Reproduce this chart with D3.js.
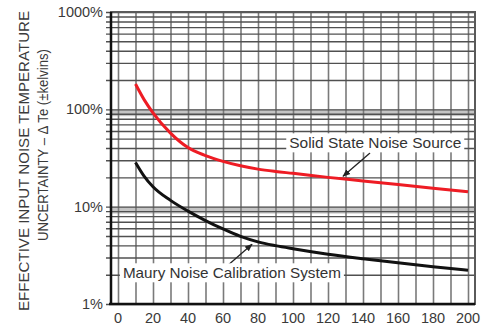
<!DOCTYPE html>
<html>
<head>
<meta charset="utf-8">
<script src="https://cdn.jsdelivr.net/npm/d3@7"></script>
<style>
  body { margin: 0; background: #fff; }
  text { font-family: "Liberation Sans", Arial, sans-serif; }
</style>
</head>
<body>
<svg id="chart" width="490" height="328"></svg>
<script>
// data
var xValues = [10, 15, 20, 30, 40, 50, 60, 70, 80, 90, 100, 120, 140, 160, 180, 200];
var solidState = [182, 125, 92, 57, 40.5, 33.5, 29.2, 26.3, 24.3, 23, 22, 20, 18.4, 16.9, 15.5, 14.2];
var mauryCal = [28.5, 20.5, 16, 11.6, 9.0, 7.2, 5.9, 4.95, 4.35, 3.98, 3.7, 3.25, 2.92, 2.65, 2.42, 2.22];
var xTicks = [0, 20, 40, 60, 80, 100, 120, 140, 160, 180, 200];
var yTickLabels = ["1%", "10%", "100%", "1000%"];
var yDecades = [1, 10, 100, 1000];

// set up the frame
var margin = { top: 12, right: 15, bottom: 24, left: 111 };
var width = 490 - margin.left - margin.right;
var height = 328 - margin.top - margin.bottom;

var svg = d3.select("#chart")
  .append("g")
  .attr("transform", "translate(" + margin.left + "," + margin.top + ")");

var x = d3.scaleLinear().domain([-4, 204]).range([0, width]);
var y = d3.scaleLog().domain([1, 1000]).range([height, 0]);

// gray bands just under each decade line
[10, 100].forEach(function(v) {
  svg.append("rect")
    .attr("x", 0)
    .attr("y", y(v))
    .attr("width", width)
    .attr("height", y(v * 0.85) - y(v))
    .style("fill", "#c4c4c4");
});

// log grid: 1..9 in each decade
var yGrid = [];
[1, 10, 100].forEach(function(d) {
  for (var i = 1; i < 10; i++) yGrid.push(d * i);
});
yGrid.push(1000);

var xGrid = d3.range(0, 201, 10);

svg.append("g")
  .attr("class", "xgrid")
  .call(d3.axisBottom(x).tickValues(xGrid).tickSize(height).tickFormat(""))
  .call(function(g) { g.select(".domain").remove(); })
  .selectAll("line")
  .style("stroke", "#7a7a7a")
  .style("stroke-width", 1.6);

svg.append("g")
  .attr("class", "ygrid")
  .call(d3.axisLeft(y).tickValues(yGrid).tickSize(-width - 5).tickFormat(""))
  .attr("transform", "translate(-5,0)")
  .call(function(g) { g.select(".domain").remove(); })
  .selectAll("line")
  .style("stroke", "#505050")
  .style("stroke-width", 1.4);

// frame
svg.append("rect")
  .attr("width", width)
  .attr("height", height)
  .style("fill", "none")
  .style("stroke", "#5a5a5a")
  .style("stroke-width", 2);

svg.append("line")
  .attr("x1", 0).attr("x2", 0).attr("y1", 0).attr("y2", height)
  .style("stroke", "#111").style("stroke-width", 2.5);
svg.append("line")
  .attr("x1", -2).attr("x2", width).attr("y1", height).attr("y2", height)
  .style("stroke", "#111").style("stroke-width", 2.5);

// tick labels
svg.selectAll(".ylab")
  .data(yDecades)
  .enter().append("text")
  .attr("class", "ylab")
  .attr("x", -8)
  .attr("y", function(d) { return y(d); })
  .attr("dy", "0.35em")
  .attr("text-anchor", "end")
  .attr("font-size", "14.5px")
  .style("fill", "#3a3a3a")
  .text(function(d, i) { return yTickLabels[i]; });

svg.selectAll(".xlab")
  .data(xTicks)
  .enter().append("text")
  .attr("class", "xlab")
  .attr("x", function(d) { return x(d); })
  .attr("y", height + 19)
  .attr("text-anchor", "middle")
  .attr("font-size", "14.5px")
  .style("fill", "#3a3a3a")
  .text(function(d) { return d; });

// curves
var line = d3.line()
  .curve(d3.curveMonotoneX)
  .x(function(d) { return x(d[0]); })
  .y(function(d) { return y(d[1]); });

svg.append("path")
  .datum(d3.zip(xValues, solidState))
  .attr("d", line)
  .style("fill", "none")
  .style("stroke", "#ee1c24")
  .style("stroke-width", 3);

svg.append("path")
  .datum(d3.zip(xValues, mauryCal))
  .attr("d", line)
  .style("fill", "none")
  .style("stroke", "#111")
  .style("stroke-width", 3);

// annotations
svg.append("defs").append("marker")
  .attr("id", "arrow")
  .attr("viewBox", "0 0 10 10")
  .attr("refX", 9).attr("refY", 5)
  .attr("markerWidth", 6).attr("markerHeight", 6)
  .attr("orient", "auto")
  .append("path")
  .attr("d", "M0,1 L10,5 L0,9 Z")
  .style("fill", "#222");

var notes = [
  { text: "Solid State Noise Source", lx: 147, ly: 45, anchor: "middle", len: 172, tail: [144, 35.6], tip: [128.6, 20.5] },
  { text: "Maury Noise Calibration System", lx: 2.8, ly: 2.08, anchor: "start", len: 218, tail: [63, 2.52], tip: [76.6, 4.1] }
];

notes.forEach(function(n) {
  svg.append("line")
    .attr("x1", x(n.tail[0])).attr("y1", y(n.tail[1]))
    .attr("x2", x(n.tip[0])).attr("y2", y(n.tip[1]))
    .style("stroke", "#222")
    .style("stroke-width", 1.3)
    .attr("marker-end", "url(#arrow)");

  var bg = svg.append("rect").style("fill", "#fff");
  var t = svg.append("text")
    .attr("x", x(n.lx))
    .attr("y", y(n.ly))
    .attr("dy", "0.35em")
    .attr("text-anchor", n.anchor)
    .attr("font-size", "15px")
    .attr("textLength", n.len)
    .attr("lengthAdjust", "spacingAndGlyphs")
    .style("fill", "#333")
    .text(n.text);
  var b = t.node().getBBox();
  bg.attr("x", b.x - 3).attr("y", b.y - 1)
    .attr("width", b.width + 6).attr("height", b.height + 2);
});

// y axis title, two rotated lines
var titles = [
  { text: "EFFECTIVE INPUT NOISE TEMPERATURE", cx: 24, cy: 161, len: 300 },
  { text: "UNCERTAINTY \u2013 \u0394 Te (\u00b1kelvins)", cx: 43, cy: 145, len: 192 }
];
d3.select("#chart").selectAll(".ytitle")
  .data(titles)
  .enter().append("text")
  .attr("class", "ytitle")
  .attr("transform", function(d) { return "translate(" + d.cx + "," + d.cy + ") rotate(-90)"; })
  .attr("text-anchor", "middle")
  .attr("dy", "0.35em")
  .attr("font-size", "14.5px")
  .attr("textLength", function(d) { return d.len; })
  .attr("lengthAdjust", "spacingAndGlyphs")
  .style("fill", "#3a3a3a")
  .text(function(d) { return d.text; });
</script>
</body>
</html>
